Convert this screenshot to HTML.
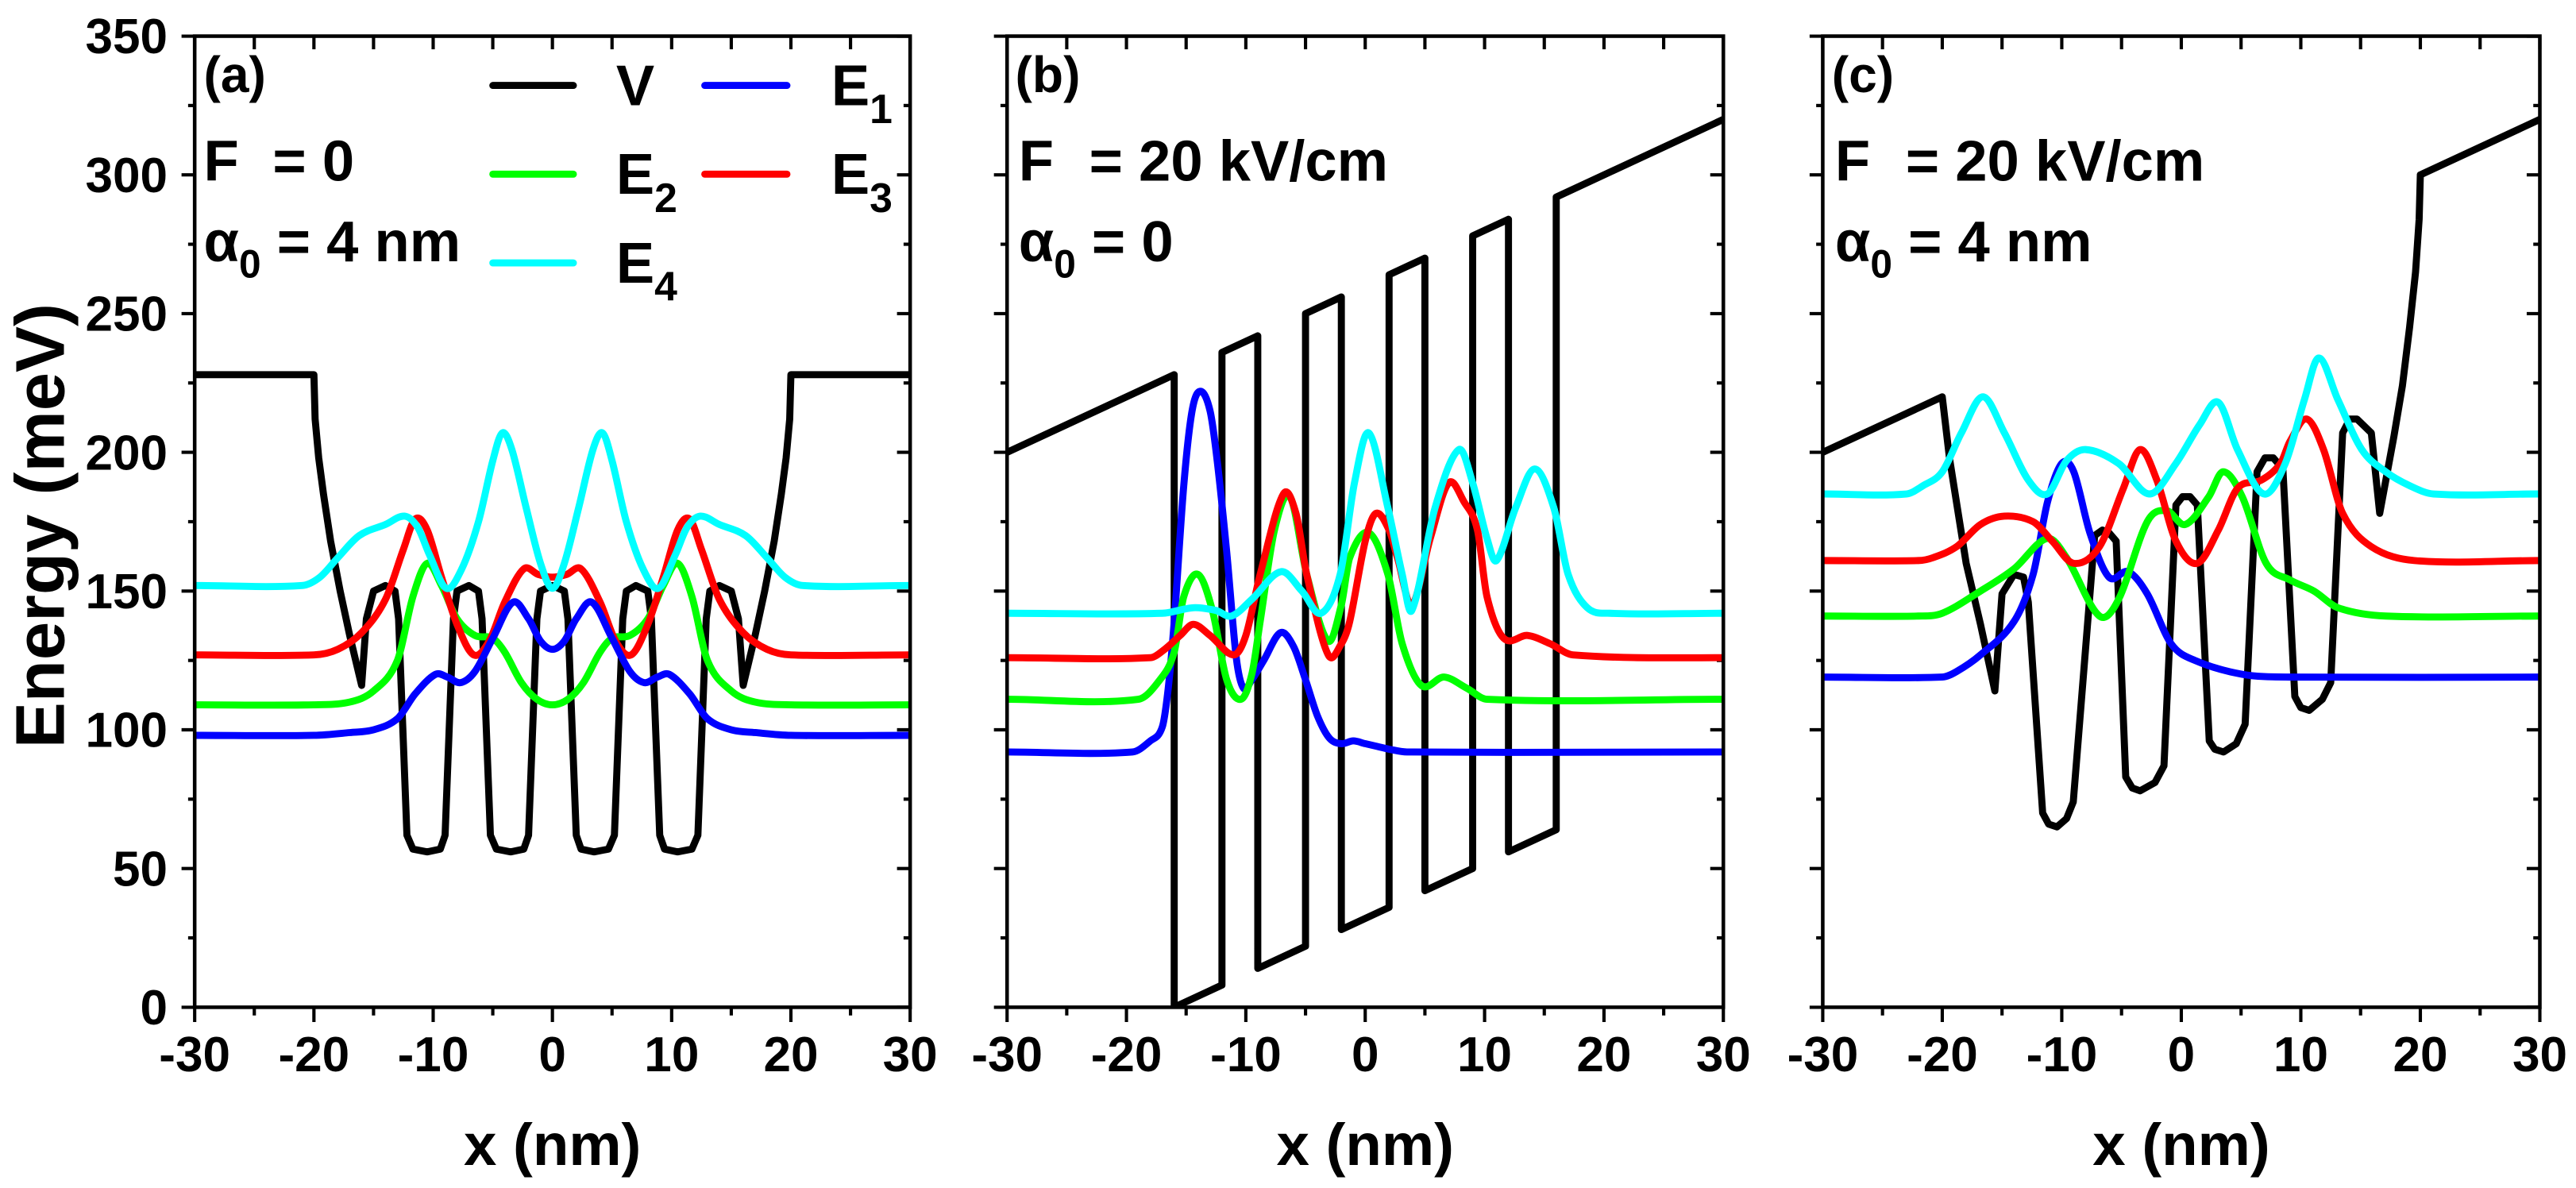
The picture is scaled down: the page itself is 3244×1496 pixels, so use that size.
<!DOCTYPE html>
<html><head><meta charset="utf-8"><style>
html,body{margin:0;padding:0;background:#fff;}
svg{display:block;}
text{font-family:"Liberation Sans",Arial,sans-serif;font-weight:bold;fill:#000;}
</style></head><body>
<svg id="fig" xmlns="http://www.w3.org/2000/svg" width="3244" height="1496" viewBox="0 0 1568 723" preserveAspectRatio="none">
<g id="axes-layer"></g>
<g id="data-layer"></g>
<g id="text-layer">
  <text transform="translate(39,320) rotate(-90)" text-anchor="middle" font-size="42">Energy (meV)</text>
  <text x="124" y="56" font-size="31">(a)</text>
  <text x="124" y="110" font-size="35">F</text>
  <text x="166" y="110" font-size="35">= 0</text>
  <text x="124" y="159" font-size="35">α<tspan font-size="24" dy="10">0</tspan><tspan dy="-10"> = 4 nm</tspan></text>
  <text x="618" y="56" font-size="31">(b)</text>
  <text x="620" y="110" font-size="35">F</text>
  <text x="663" y="110" font-size="35">= 20 kV/cm</text>
  <text x="620" y="159" font-size="35">α<tspan font-size="24" dy="10">0</tspan><tspan dy="-10"> = 0</tspan></text>
  <text x="1115" y="56" font-size="31">(c)</text>
  <text x="1117" y="110" font-size="35">F</text>
  <text x="1160" y="110" font-size="35">= 20 kV/cm</text>
  <text x="1117" y="159" font-size="35">α<tspan font-size="24" dy="10">0</tspan><tspan dy="-10"> = 4 nm</tspan></text>
  <g>
    <line x1="300" y1="52" x2="349" y2="52" stroke="#000" stroke-width="4.3" stroke-linecap="round"/>
    <text x="375" y="64" font-size="35">V</text>
    <line x1="429" y1="52" x2="479" y2="52" stroke="#0000ff" stroke-width="4.3" stroke-linecap="round"/>
    <text x="506" y="64" font-size="35">E<tspan font-size="25" dy="11">1</tspan></text>
    <line x1="300" y1="106" x2="349" y2="106" stroke="#00ff00" stroke-width="4.3" stroke-linecap="round"/>
    <text x="375" y="118" font-size="35">E<tspan font-size="25" dy="11">2</tspan></text>
    <line x1="429" y1="106" x2="479" y2="106" stroke="#ff0000" stroke-width="4.3" stroke-linecap="round"/>
    <text x="506" y="118" font-size="35">E<tspan font-size="25" dy="11">3</tspan></text>
    <line x1="300" y1="160" x2="349" y2="160" stroke="#00ffff" stroke-width="4.3" stroke-linecap="round"/>
    <text x="375" y="172" font-size="35">E<tspan font-size="25" dy="11">4</tspan></text>
  </g>
</g>
</svg>
<script>
// ---------- data (x in nm, energy in meV) ----------
const xTicks = [-30,-20,-10,0,10,20,30];
const yTicks = [0,50,100,150,200,250,300,350];

// Panel (a)
const aVx = [-30,-20,-19.9,-19.6,-19.2,-18.6,-17.8,-17,-16,-15.6,-15,-14,-13.2,-12.9,-12.2,-11.7,-10.5,-9.4,-9,-8.3,-8,-7,-6.2,-5.9,-5.2,-4.7,-3.5,-2.4,-2,-1.3,-1,0,1,1.3,2,2.4,3.5,4.7,5.2,5.9,6.2,7,8,8.3,9,9.4,10.5,11.7,12.2,12.9,13.2,14,15,15.6,16,17,17.8,18.6,19.2,19.6,19.9,20,30];
const aVy = [228,228,212,198,185,168,150,134,116,140,150,152,150,140,62,57,56,57,62,140,150,152,150,140,62,57,56,57,62,140,150,152,150,140,62,57,56,57,62,140,150,152,150,140,62,57,56,57,62,140,150,152,150,140,116,134,150,168,185,198,212,228,228];
const aE1x = [-30,-20,-17,-15,-13,-11.5,-9.8,-8.8,-7.7,-6.5,-5,-3.3,-2,-1,0,1,2,3.3,5,6.5,7.7,8.8,9.8,11.5,13,15,17,20,30];
const aE1y = [98,98,99,100,104,113,120,119,117,121,133,146,140,132,129,132,140,146,133,121,117,119,120,113,104,100,99,98,98];
const aE2x = [-30,-20,-17,-15,-13,-11.7,-10.5,-9.3,-8,-6.5,-5,-4,-2.6,-1.3,0,1.3,2.6,4,5,6.5,8,9.3,10.5,11.7,13,15,17,20,30];
const aE2y = [109,109,110,114,125,148,160,152,140,134,133,128,117,111,109,111,117,128,133,134,140,152,160,148,125,114,110,109,109];
const aE3x = [-30,-20,-18,-16,-14,-12.5,-11.5,-10.5,-9.3,-8,-6.6,-5.3,-4,-2.4,-1.2,0,1.2,2.4,4,5.3,6.6,8,9.3,10.5,11.5,12.5,14,16,18,20,30];
const aE3y = [127,127,129,135,147,165,176,172,155,138,127,132,146,158,156,155,156,158,146,132,127,138,155,172,176,165,147,135,129,127,127];
const aE4x = [-30,-21,-19.5,-18,-16.2,-14,-12.4,-11.3,-10.3,-8.9,-7.6,-6.2,-5,-4.2,-3.4,-2.2,-1,0,1,2.2,3.4,4.2,5,6.2,7.6,8.9,10.3,11.3,12.4,14,16.2,18,19.5,21,30];
const aE4y = [152,152,155,162,170,174,177,173,163,151,158,175,197,207,201,180,160,151,160,180,201,207,197,175,158,151,163,173,177,174,170,162,155,152,152];

// Panel (b)
const bVx = [-30,-16,-16,-12,-12,-9,-9,-5,-5,-2,-2,2,2,5,5,9,9,12,12,16,16,30];
const bVy = [200,228,0,8,236,242,14,22,250,256,28,36,264,270,42,50,278,284,56,64,292,320];
const bE1x = [-30,-19.5,-18,-17,-16.5,-16,-15.2,-14.5,-13.8,-13,-12.4,-11.6,-10.8,-10.2,-9.5,-8.5,-7.1,-6,-5,-4,-3,-2,-1,0,1,2,3.5,30];
const bE1y = [92,92,96,101,115,139,188,215,222,215,197,164,126,115,118,125,135,130,118,105,97,95,96,95,94,93,92,92];
const bE2x = [-30,-19,-17.2,-16,-15.2,-14,-12.8,-11.6,-10.4,-9.5,-8.8,-7.6,-6.3,-4.9,-3.1,-2,-1.3,0.3,1.9,3.1,4.7,6.6,8.5,10.2,30];
const bE2y = [111,111,118,128,148,156,143,118,111,120,139,172,184,156,132,145,162,171,156,131,116,119,115,111,111];
const bE3x = [-30,-18,-16.8,-15.5,-14.4,-13,-11,-10,-8.8,-6.85,-5.8,-4.9,-3.1,-2,-1.3,0,0.9,2,2.7,3.9,5.45,7,8.3,9.4,10.2,11.6,13.6,15.5,17.4,30];
const bE3y = [126,126,129,134,138,134,127,134,156,185,178,156,127,131,139,168,178,172,162,145,169,189,182,172,148,133,134,131,127,126];
const bE4x = [-30,-17,-14.4,-12.5,-11.2,-9.5,-7.05,-5.3,-3.7,-2.1,-0.9,0.3,1.9,3.1,3.9,5.85,7.85,9,10.2,11,12.6,14.2,15.8,17,18.6,20.5,30];
const bE4y = [142,142,144,143,141,147,157,150,142,156,189,207,180,156,143,180,201,189,169,161,180,194,180,156,144,142,142];

// Panel (c)
const cVx = [-30,-20,-19.4,-18,-16.8,-15.6,-15,-14,-13.2,-12.8,-11.6,-11.1,-10.4,-9.6,-9.04,-7.25,-6.6,-6.05,-5.45,-4.65,-4.1,-3.45,-2.2,-1.45,-0.45,0.1,0.74,1.34,2.34,2.8,3.54,4.6,5.34,6.34,7,7.7,8.5,9.5,10,10.7,11.8,12.5,13.5,14.1,14.7,15.9,16.6,17.2,17.8,18.5,19.1,19.6,19.9,20,30];
const cVy = [200,220,198,160,138,114,149,156,155,146,70,66,65,68,74,170,172,171,168,83,79,78,81,87,181,184,184,181,96,93,92,95,102,193,198,198,194,112,108,107,111,117,207,212,212,207,178,192,206,224,245,265,284,300,320];
const cE1x = [-30,-20,-18.8,-16.8,-14,-12.4,-11.2,-10,-9,-7.65,-6.05,-4.45,-2.85,-0.85,1.15,5.1,9.1,30];
const cE1y = [119,119,121,127,139,156,182,196,193,171,155,157,149,131,125,120,119,119];
const cE2x = [-30,-22,-20,-16.8,-14,-11.2,-9.6,-6.85,-5.25,-2.85,-1.25,0.34,2.3,3.5,5.1,7.1,9.1,11.1,13.1,17.1,30];
const cE2y = [141,141,142,150,158,169,162,141,147,175,179,174,184,193,184,160,154,150,144,141,141];
const cE3x = [-30,-22,-20.8,-18.8,-16.8,-14.8,-12.4,-10.8,-9,-6.85,-4.85,-3.45,-2.05,-0.45,1.34,3.1,4.7,6.7,8.3,9.1,10.5,11.9,13.5,15.9,19.5,30];
const cE3y = [161,161,162,166,174,177,175,168,160,166,187,201,190,168,160,172,187,190,196,204,212,201,178,166,161,161];
const cE4x = [-30,-23,-21.6,-20,-18.4,-16.6,-14.8,-12.8,-11.2,-9.6,-8,-5.25,-2.65,-0.45,1.54,3.1,4.7,6.9,8.7,10.3,11.5,13.1,15.1,17.1,19.1,21.1,30];
const cE4y = [185,185,188,193,207,220,207,190,185,197,201,196,185,196,210,218,201,185,196,219,234,219,201,193,188,185,185];

// ---------- layout ----------
const NS = "http://www.w3.org/2000/svg";
const axesLayer = document.getElementById('axes-layer');
const dataLayer = document.getElementById('data-layer');
const Y0 = 613, Y350 = 22;
const panels = [
  {id:'a', L:118.5, R:554, yLabels:true,
   series:[['v',aVx,aVy,'#000000',false],['e2',aE2x,aE2y,'#00ff00',true],['e3',aE3x,aE3y,'#ff0000',true],['e1',aE1x,aE1y,'#0000ff',true],['e4',aE4x,aE4y,'#00ffff',true]]},
  {id:'b', L:613, R:1049, yLabels:false,
   series:[['v',bVx,bVy,'#000000',false],['e1',bE1x,bE1y,'#0000ff',true],['e2',bE2x,bE2y,'#00ff00',true],['e3',bE3x,bE3y,'#ff0000',true],['e4',bE4x,bE4y,'#00ffff',true]]},
  {id:'c', L:1109.5, R:1546, yLabels:false,
   series:[['v',cVx,cVy,'#000000',false],['e1',cE1x,cE1y,'#0000ff',true],['e2',cE2x,cE2y,'#00ff00',true],['e3',cE3x,cE3y,'#ff0000',true],['e4',cE4x,cE4y,'#00ffff',true]]}
];
function yScale(e){ return Y0 - (e/350)*(Y0-Y350); }
function mk(tag, attrs, parent){
  const el = document.createElementNS(NS, tag);
  for (const k in attrs) el.setAttribute(k, attrs[k]);
  parent.appendChild(el);
  return el;
}
function smoothPath(xs, ys, sx){
  const n = xs.length, m = [];
  for (let i=0;i<n;i++){
    if (i===0||i===n-1) m.push(0);
    else m.push((ys[i+1]-ys[i-1])/(xs[i+1]-xs[i-1]));
  }
  let d = 'M'+sx(xs[0]).toFixed(2)+','+yScale(ys[0]).toFixed(2);
  for (let i=0;i<n-1;i++){
    const h = xs[i+1]-xs[i];
    const c1x = xs[i]+h/3, c1y = ys[i]+m[i]*h/3;
    const c2x = xs[i+1]-h/3, c2y = ys[i+1]-m[i+1]*h/3;
    d += ' C'+sx(c1x).toFixed(2)+','+yScale(c1y).toFixed(2)+' '+sx(c2x).toFixed(2)+','+yScale(c2y).toFixed(2)+' '+sx(xs[i+1]).toFixed(2)+','+yScale(ys[i+1]).toFixed(2);
  }
  return d;
}
function polyPath(xs, ys, sx){
  let d = '';
  for (let i=0;i<xs.length;i++) d += (i?' L':'M')+sx(xs[i]).toFixed(2)+','+yScale(ys[i]).toFixed(2);
  return d;
}

panels.forEach(p=>{
  const sx = x => p.L + (x+30)/60*(p.R-p.L);
  const g = mk('g', {}, axesLayer);
  
  
  for (let x=-30;x<=30;x+=5){
    const major = (x%10===0);
    const X = sx(x);
    const tb = mk('line', {x1:X,y1:Y0,x2:X,y2:Y0+(major?9:5),stroke:'#000','stroke-width':2}, g);
    
    
    const tt = mk('line', {x1:X,y1:Y350,x2:X,y2:Y350+8,stroke:'#000','stroke-width':2}, g);
    
    
  }
  for (let e=0;e<=350;e+=25){
    const major = (e%50===0);
    const Y = yScale(e);
    const tl = mk('line', {x1:p.L-(major?8:4),y1:Y,x2:p.L,y2:Y,stroke:'#000','stroke-width':2}, g);
    
    
    const tr = mk('line', {x1:p.R-(major?8:4),y1:Y,x2:p.R,y2:Y,stroke:'#000','stroke-width':2}, g);
    
    
  }
  xTicks.forEach(x=>{
    const t = mk('text', {x:sx(x), y:652, 'text-anchor':'middle','font-size':30}, g);
    t.textContent = String(x);
    
    
  });
  if (p.yLabels){
    yTicks.forEach(e=>{
      const t = mk('text', {x:102, y:yScale(e)+10.5, 'text-anchor':'end','font-size':30}, g);
      t.textContent = String(e);
      
      
    });
  }
  const xt = mk('text', {x:(p.L+p.R)/2, y:709, 'text-anchor':'middle','font-size':36}, g);
  xt.textContent = 'x (nm)';
  
  

  const clipId = 'clip-'+p.id;
  const cp = mk('clipPath', {id:clipId}, dataLayer);
  mk('rect', {x:p.L, y:Y350, width:p.R-p.L, height:Y0-Y350}, cp);
  const dg = mk('g', {'clip-path':'url(#'+clipId+')'}, dataLayer);
  
  
  p.series.forEach(s=>{
    const d = s[4] ? smoothPath(s[1], s[2], sx) : polyPath(s[1], s[2], sx);
    const path = mk('path', {d:d, fill:'none', stroke:s[3], 'stroke-width':4.3, 'stroke-linejoin':'round', 'stroke-linecap':'round'}, dg);
    
    
  });
  const fr = mk('rect', {x:p.L, y:Y350, width:p.R-p.L, height:Y0-Y350, fill:'none', stroke:'#000','stroke-width':2.2}, dataLayer);
  
  
});
</script>
</body></html>
